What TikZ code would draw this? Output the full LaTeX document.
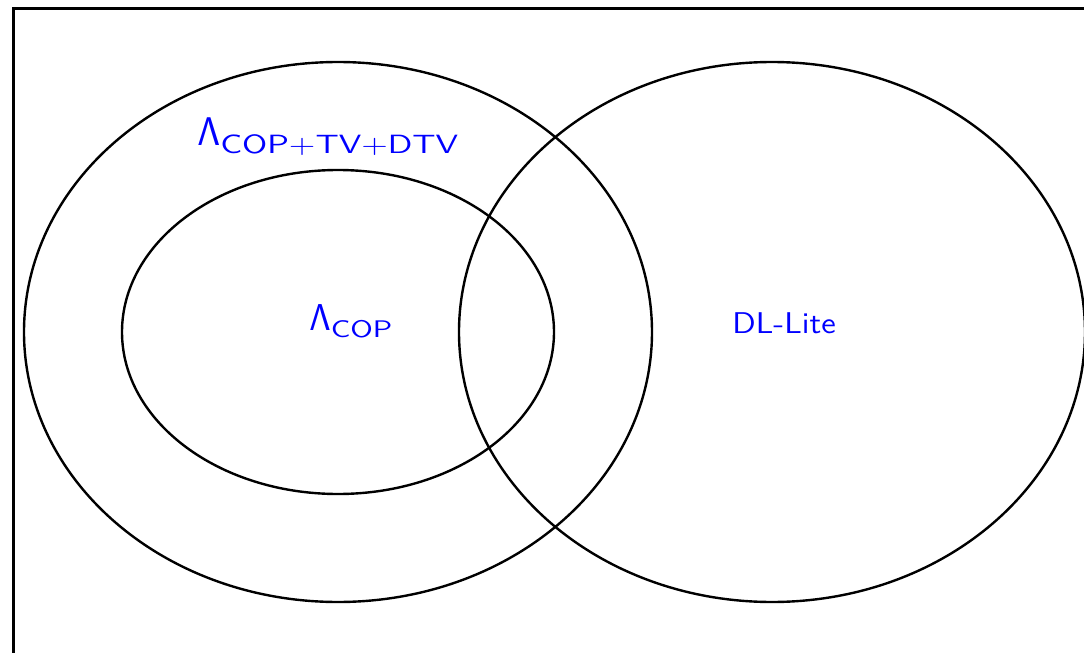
\RequirePackage{fix-cm}
\documentclass[tikz,border=0pt]{standalone}
\usepackage{graphicx}
\usetikzlibrary{positioning}

\begin{document}
\begin{tikzpicture}[
  x=0.5pt, y=-0.5pt,
  set/.style={draw, line width=1.2pt},
  lbl/.style={text=blue, inner sep=0pt, anchor=base west, font=\sffamily}
]
  \clip (0,0) rectangle (1084,653);
  \draw[line width=1.5pt] (13,8) rectangle (1120,700);
  % the three sets
  \draw[set] (338,332) ellipse [x radius=314, y radius=270];
  \draw[set] (338,332) ellipse [x radius=216, y radius=162];
  \draw[set] (772,332) ellipse [x radius=313, y radius=270];
  \node[lbl] (big) at (197,145) {\fontsize{20}{20}\selectfont$\mathsf{\Lambda}$\raisebox{-4pt}{\scalebox{1.32}[1]{\fontsize{13.2}{13.2}\selectfont COP+TV+DTV}}};
  \node[lbl] (cop) at (309,330) {\fontsize{18.7}{18.7}\selectfont$\mathsf{\Lambda}$\raisebox{-3.5pt}{\scalebox{1.3}[1]{\fontsize{12}{12}\selectfont COP}}};
  \node[lbl] (dll) at (732,333) {\scalebox{1.11}[1]{\fontsize{15}{15}\selectfont DL-Lite}};
\end{tikzpicture}
\end{document}
